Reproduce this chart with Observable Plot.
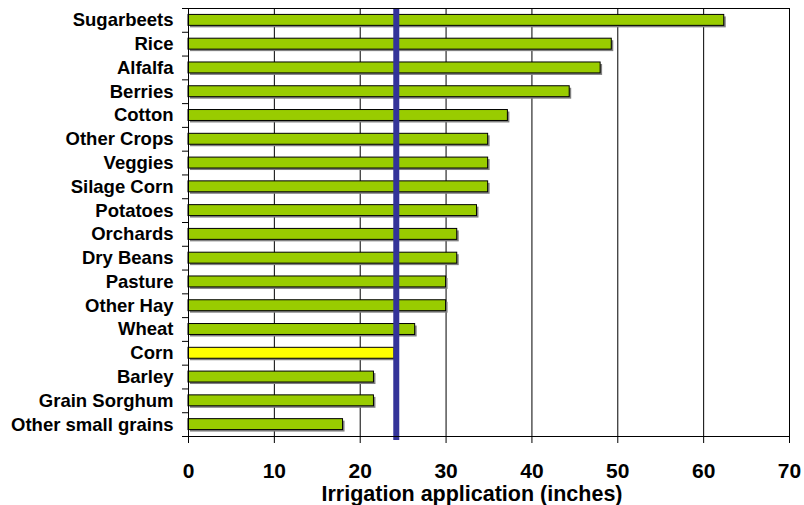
<!DOCTYPE html>
<html>
<head>
<meta charset="utf-8">
<script src="https://cdn.jsdelivr.net/npm/d3@7"></script>
<script src="https://cdn.jsdelivr.net/npm/@observablehq/plot@0.6"></script>
<style>
  html, body { margin: 0; padding: 0; background: #fff; }
  #chart svg { display: block; }
</style>
</head>
<body>
<div id="chart"></div>
<script>
// Irrigation water applied per crop (inches), highest first
const crops = [
  "Sugarbeets", "Rice", "Alfalfa", "Berries", "Cotton", "Other Crops",
  "Veggies", "Silage Corn", "Potatoes", "Orchards", "Dry Beans", "Pasture",
  "Other Hay", "Wheat", "Corn", "Barley", "Grain Sorghum", "Other small grains"
];
const inches = [
  62.4, 49.3, 48.0, 44.4, 37.2, 34.9,
  34.9, 34.9, 33.6, 31.3, 31.3, 30.0,
  30.0, 26.4, 24.0, 21.6, 21.6, 18.0
];
const highlighted = ["Corn"];
const referenceLevel = [24.2];
const xTicks = [0, 10, 20, 30, 40, 50, 60, 70];
const xLabel = "Irrigation application (inches)";

const rows = crops.map((crop, i) => ({crop, value: inches[i]}));

const W = 804, H = 505;
const M = {top: 8, right: 15, bottom: 69, left: 188};
const step = (H - M.top - M.bottom) / crops.length;
const barInset = step * 0.27;
const font = "'Liberation Sans', Arial, Helvetica, sans-serif";

const chart = Plot.plot({
  width: W,
  height: H,
  marginTop: M.top,
  marginRight: M.right,
  marginBottom: M.bottom,
  marginLeft: M.left,
  style: {fontFamily: font, background: "#fff", color: "#000"},
  x: {domain: [0, 70]},
  y: {domain: crops, padding: 0, round: false},
  marks: [
    Plot.gridX(xTicks, {stroke: "#000", strokeOpacity: 1, strokeWidth: 1}),
    // drop shadow under each bar
    Plot.barX(rows, {
      x: "value", y: "crop", fill: "#808080", dx: 2, dy: 2,
      insetTop: barInset, insetBottom: barInset
    }),
    Plot.barX(rows, {
      x: "value", y: "crop",
      fill: d => highlighted.includes(d.crop) ? "#ffff00" : "#99cc00",
      stroke: "#000", strokeWidth: 1,
      insetTop: barInset, insetBottom: barInset
    }),
    Plot.ruleX(referenceLevel, {stroke: "#333399", strokeWidth: 6, insetBottom: -4}),
    Plot.frame({stroke: "#000", strokeWidth: 1}),
    // crop names
    Plot.axisY({tickSize: 0, tickPadding: 15, fontSize: 18.5, fontWeight: "bold", label: null}),
    // category separators on the left axis
    Plot.axisY({tickSize: 6, tickFormat: () => "", dy: -step / 2, label: null, stroke: "#000"}),
    Plot.axisY(crops.slice(-1), {tickSize: 6, tickFormat: () => "", dy: step / 2, label: null, stroke: "#000"}),
    Plot.axisX(xTicks, {tickSize: 7, tickPadding: 20, fontSize: 21, fontWeight: "bold", label: null, stroke: "#000"}),
    Plot.text([xLabel], {
      frameAnchor: "bottom", dy: 58, dx: -17, lineAnchor: "middle",
      fontSize: 21.5, fontWeight: "bold", fill: "#000"
    })
  ]
});

document.getElementById("chart").appendChild(chart);
</script>
</body>
</html>
